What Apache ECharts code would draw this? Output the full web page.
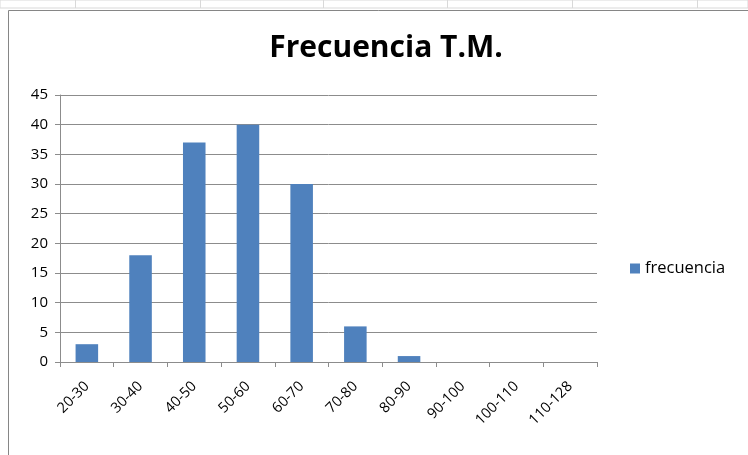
<!DOCTYPE html>
<html>
<head>
<meta charset="utf-8">
<script src="https://cdn.jsdelivr.net/npm/echarts@6/dist/echarts.min.js"></script>
<style>
  html, body { margin: 0; padding: 0; background: #fff; }
  #box { width: 748px; height: 455px; }
</style>
</head>
<body>
<div id="box"></div>
<script>
// datos del histograma
const categories = ['20-30', '30-40', '40-50', '50-60', '60-70', '70-80', '80-90', '90-100', '100-110', '110-128'];
const frecuencia = [3, 18, 37, 40, 30, 6, 1, 0, 0, 0];
const yTicks = [0, 45, 5]; // min, max, intervalo

const chart = echarts.init(document.getElementById('box'));

const gridColor = '#8c8c8c';
const sheetLines = [75, 200, 323, 447, 572, 697];

const option = {
  animation: false,
  backgroundColor: '#fff',
  title: {
    text: 'Frecuencia T.M.',
    left: 381,
    textAlign: 'center',
    top: 28,
    textStyle: {
      fontFamily: 'Open Sans',
      fontWeight: 'bold',
      fontSize: 30,
      color: '#000'
    }
  },
  legend: {
    orient: 'vertical',
    left: 625,
    top: 255,
    icon: 'rect',
    itemWidth: 10,
    itemHeight: 10,
    itemGap: 6,
    textStyle: { fontFamily: 'Open Sans', fontSize: 16.5, color: '#000', padding: [0, 0, 0, 0] },
    data: ['frecuencia']
  },
  grid: {
    left: 60,
    right: 151,
    top: 95,
    bottom: 93
  },
  xAxis: {
    type: 'category',
    data: categories,
    axisLine: { lineStyle: { color: gridColor, width: 1 } },
    axisTick: { show: true, length: 5, lineStyle: { color: gridColor } },
    axisLabel: {
      rotate: 45,
      interval: 0,
      margin: 22,
      fontFamily: 'Open Sans',
      fontSize: 14.5,
      color: '#000'
    }
  },
  yAxis: {
    type: 'value',
    min: yTicks[0],
    max: yTicks[1],
    interval: yTicks[2],
    axisLine: { show: true, lineStyle: { color: gridColor, width: 1 } },
    axisTick: { show: true, length: 5, lineStyle: { color: gridColor } },
    splitLine: { lineStyle: { color: gridColor, width: 1 } },
    axisLabel: {
      margin: 12,
      fontFamily: 'Open Sans',
      fontSize: 15,
      color: '#000'
    }
  },
  series: [
    {
      name: 'frecuencia',
      type: 'bar',
      data: frecuencia,
      barCategoryGap: '58%',
      itemStyle: { color: '#4f81bd' }
    }
  ],
  graphic: [
    // bordes de la hoja de cálculo
    {
      type: 'rect',
      shape: { x: 0, y: 0, width: 748, height: 8 },
      style: { fill: '#fff', stroke: '#d9d9d9', lineWidth: 1 },
      silent: true
    },
    ...sheetLines.map(x => ({
      type: 'line',
      shape: { x1: x + 0.5, y1: 0, x2: x + 0.5, y2: 8 },
      style: { stroke: '#d9d9d9', lineWidth: 1 },
      silent: true
    })),
    // marco del gráfico
    {
      type: 'rect',
      shape: { x: 8.5, y: 10.5, width: 760, height: 460 },
      style: { fill: null, stroke: '#868686', lineWidth: 1 },
      silent: true
    }
  ]
};

chart.setOption(option);
</script>
</body>
</html>
